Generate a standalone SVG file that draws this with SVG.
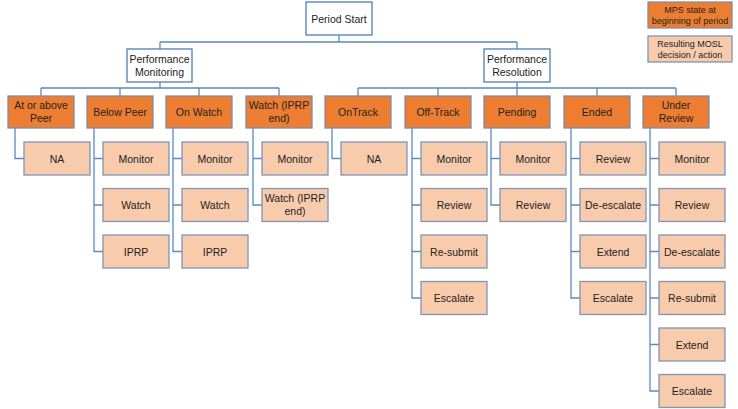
<svg xmlns="http://www.w3.org/2000/svg" width="738" height="409" viewBox="0 0 738 409">
<style>
text{font-family:"Liberation Sans",Arial,sans-serif;font-size:10.5px;fill:#222222;text-anchor:middle}
.lg{font-size:9px}
.top{fill:#ffffff;stroke:#4f7fb5;stroke-width:1.3}
.st{fill:#ED7D31;stroke:#7f8ea6;stroke-width:1.3}
.ac{fill:#F8CBAD;stroke:#7f95b6;stroke-width:1.3}
.con{fill:none;stroke:#5a8ac0;stroke-width:1.3}
</style>
<rect width="738" height="409" fill="#ffffff"/>
<g id="connectors" class="con">
<path d="M339 35V42M160 42H517M160 42V49M517 42V49"/>
<path d="M160 82V88M41 88H279M41 88V96M120 88V96M199 88V96M279 88V96"/>
<path d="M517 82V88M358 88H676M358 88V96M438 88V96M517 88V96M597 88V96M676 88V96"/>
<path d="M15 128V158.5H24"/>
<path d="M94 128V251.5H103M94 158.5H103M94 205H103"/>
<path d="M173 128V251.5H182M173 158.5H182M173 205H182"/>
<path d="M253 128V205H262M253 158.5H262"/>
<path d="M332 128V158.5H341"/>
<path d="M412 128V298H421M412 158.5H421M412 205H421M412 251.5H421"/>
<path d="M491 128V205H500M491 158.5H500"/>
<path d="M571 128V298H580M571 158.5H580M571 205H580M571 251.5H580"/>
<path d="M650 128V391H659M650 158.5H659M650 205H659M650 251.5H659M650 298H659M650 344.5H659"/>
</g>
<g id="period-start"><rect class="top" x="306" y="2" width="66" height="33"/><text x="339" y="22.5">Period Start</text></g>
<g id="perf-monitoring"><rect class="top" x="127" y="49" width="65" height="33"/><text x="159.5" y="63">Performance</text><text x="159.5" y="76">Monitoring</text></g>
<g id="perf-resolution"><rect class="top" x="484" y="49" width="66" height="33"/><text x="517" y="63">Performance</text><text x="517" y="76">Resolution</text></g>
<g id="legend-state"><rect class="st" x="648" y="2" width="84" height="26"/><text class="lg" x="690" y="13">MPS state at</text><text class="lg" x="690" y="24">beginning of period</text></g>
<g id="legend-action"><rect class="ac" x="648" y="36" width="84" height="26"/><text class="lg" x="690" y="47">Resulting MOSL</text><text class="lg" x="690" y="58">decision / action</text></g>
<g id="at-or-above-peer"><rect class="st" x="8" y="96" width="66" height="32"/><text x="41" y="109">At or above</text><text x="41" y="122">Peer</text></g>
<g id="below-peer"><rect class="st" x="87" y="96" width="66" height="32"/><text x="120" y="115.5">Below Peer</text></g>
<g id="on-watch"><rect class="st" x="166" y="96" width="66" height="32"/><text x="199" y="115.5">On Watch</text></g>
<g id="watch-iprp-end"><rect class="st" x="246" y="96" width="66" height="32"/><text x="279" y="109">Watch (IPRP</text><text x="279" y="122">end)</text></g>
<g id="ontrack"><rect class="st" x="325" y="96" width="66" height="32"/><text x="358" y="115.5">OnTrack</text></g>
<g id="off-track"><rect class="st" x="405" y="96" width="66" height="32"/><text x="438" y="115.5">Off-Track</text></g>
<g id="pending"><rect class="st" x="484" y="96" width="66" height="32"/><text x="517" y="115.5">Pending</text></g>
<g id="ended"><rect class="st" x="564" y="96" width="66" height="32"/><text x="597" y="115.5">Ended</text></g>
<g id="under-review"><rect class="st" x="643" y="96" width="66" height="32"/><text x="676" y="109">Under</text><text x="676" y="122">Review</text></g>
<g id="c0-na"><rect class="ac" x="24" y="142" width="66" height="33"/><text x="57" y="162.5">NA</text></g>
<g id="c1-monitor"><rect class="ac" x="103" y="142" width="66" height="33"/><text x="136" y="162.5">Monitor</text></g>
<g id="c1-watch"><rect class="ac" x="103" y="188.5" width="66" height="33"/><text x="136" y="209">Watch</text></g>
<g id="c1-iprp"><rect class="ac" x="103" y="235" width="66" height="33"/><text x="136" y="255.5">IPRP</text></g>
<g id="c2-monitor"><rect class="ac" x="182" y="142" width="66" height="33"/><text x="215" y="162.5">Monitor</text></g>
<g id="c2-watch"><rect class="ac" x="182" y="188.5" width="66" height="33"/><text x="215" y="209">Watch</text></g>
<g id="c2-iprp"><rect class="ac" x="182" y="235" width="66" height="33"/><text x="215" y="255.5">IPRP</text></g>
<g id="c3-monitor"><rect class="ac" x="262" y="142" width="66" height="33"/><text x="295" y="162.5">Monitor</text></g>
<g id="c3-watch-iprp-end"><rect class="ac" x="262" y="188.5" width="66" height="33"/><text x="295" y="202">Watch (IPRP</text><text x="295" y="215">end)</text></g>
<g id="c4-na"><rect class="ac" x="341" y="142" width="66" height="33"/><text x="374" y="162.5">NA</text></g>
<g id="c5-monitor"><rect class="ac" x="421" y="142" width="66" height="33"/><text x="454" y="162.5">Monitor</text></g>
<g id="c5-review"><rect class="ac" x="421" y="188.5" width="66" height="33"/><text x="454" y="209">Review</text></g>
<g id="c5-resubmit"><rect class="ac" x="421" y="235" width="66" height="33"/><text x="454" y="255.5">Re-submit</text></g>
<g id="c5-escalate"><rect class="ac" x="421" y="281.5" width="66" height="33"/><text x="454" y="302">Escalate</text></g>
<g id="c6-monitor"><rect class="ac" x="500" y="142" width="66" height="33"/><text x="533" y="162.5">Monitor</text></g>
<g id="c6-review"><rect class="ac" x="500" y="188.5" width="66" height="33"/><text x="533" y="209">Review</text></g>
<g id="c7-review"><rect class="ac" x="580" y="142" width="66" height="33"/><text x="613" y="162.5">Review</text></g>
<g id="c7-deescalate"><rect class="ac" x="580" y="188.5" width="66" height="33"/><text x="613" y="209">De-escalate</text></g>
<g id="c7-extend"><rect class="ac" x="580" y="235" width="66" height="33"/><text x="613" y="255.5">Extend</text></g>
<g id="c7-escalate"><rect class="ac" x="580" y="281.5" width="66" height="33"/><text x="613" y="302">Escalate</text></g>
<g id="c8-monitor"><rect class="ac" x="659" y="142" width="66" height="33"/><text x="692" y="162.5">Monitor</text></g>
<g id="c8-review"><rect class="ac" x="659" y="188.5" width="66" height="33"/><text x="692" y="209">Review</text></g>
<g id="c8-deescalate"><rect class="ac" x="659" y="235" width="66" height="33"/><text x="692" y="255.5">De-escalate</text></g>
<g id="c8-resubmit"><rect class="ac" x="659" y="281.5" width="66" height="33"/><text x="692" y="302">Re-submit</text></g>
<g id="c8-extend"><rect class="ac" x="659" y="328" width="66" height="33"/><text x="692" y="348.5">Extend</text></g>
<g id="c8-escalate"><rect class="ac" x="659" y="374.5" width="66" height="33"/><text x="692" y="395">Escalate</text></g>
</svg>
